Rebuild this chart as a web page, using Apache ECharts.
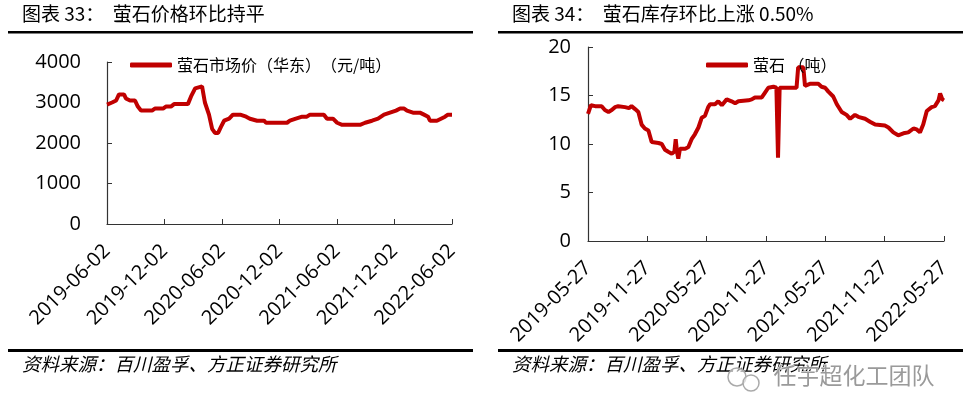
<!DOCTYPE html>
<html>
<head>
<meta charset="utf-8">
<script src="https://cdn.jsdelivr.net/npm/echarts@6/dist/echarts.min.js"></script>
<style>
html,body{margin:0;padding:0;background:#fff;}
#c{width:970px;height:418px;}
</style>
</head>
<body>
<div id="c"></div>
<script>
// ---- Left chart: 萤石市场价(华东) (元/吨)
var priceStart = '2019-06-02', priceEnd = '2022-06-02';
var priceTicks = ['2019-06-02','2019-12-02','2020-06-02','2020-12-02','2021-06-02','2021-12-02','2022-06-02'];
var priceDates = ['2019-06-02','2019-06-18','2019-07-01','2019-07-10','2019-07-26','2019-08-01','2019-08-14','2019-08-30','2019-09-08','2019-09-18',
  '2019-10-23','2019-11-01','2019-11-27','2019-12-06','2019-12-22','2020-01-01','2020-02-14','2020-02-24','2020-03-08','2020-03-30',
  '2020-04-08','2020-04-21','2020-05-01','2020-05-10','2020-05-20','2020-05-29','2020-06-08','2020-06-24','2020-07-06','2020-07-29',
  '2020-08-17','2020-08-29','2020-09-21','2020-10-13','2020-10-19','2020-12-25','2021-01-03','2021-01-22','2021-02-11','2021-02-26',
  '2021-03-08','2021-04-21','2021-05-01','2021-05-20','2021-06-02','2021-06-18','2021-08-14','2021-08-30','2021-09-21','2021-10-10',
  '2021-10-29','2021-11-17','2021-12-06','2021-12-19','2022-01-01','2022-01-10','2022-01-29','2022-02-20','2022-03-05','2022-03-18',
  '2022-03-24','2022-04-15','2022-04-28','2022-05-11','2022-05-20','2022-06-02'];
var priceValues = [2950,3000,3050,3200,3200,3100,3050,3050,2900,2800,
  2800,2850,2850,2900,2900,2960,2960,3150,3350,3400,
  3000,2700,2350,2250,2250,2400,2550,2600,2700,2700,
  2650,2600,2550,2550,2500,2500,2550,2600,2650,2650,
  2700,2700,2600,2600,2500,2450,2450,2500,2550,2600,
  2700,2750,2800,2850,2850,2800,2750,2750,2700,2650,
  2550,2550,2600,2650,2700,2700];
var priceYTicks = [0,1000,2000,3000,4000];

// ---- Right chart: 萤石 (吨)
var stockStart = '2019-05-27', stockEnd = '2022-05-27';
var stockTicks = ['2019-05-27','2019-11-27','2020-05-27','2020-11-27','2021-05-27','2021-11-27','2022-05-27'];
var stockDates = ['2019-05-27','2019-06-05','2019-06-18','2019-07-08','2019-07-18','2019-07-29','2019-08-08','2019-08-18','2019-08-28','2019-09-18',
  '2019-09-30','2019-10-08','2019-10-19','2019-10-29','2019-11-08','2019-11-18','2019-11-29','2019-12-09','2019-12-30','2020-01-09',
  '2020-01-19','2020-01-29','2020-02-09','2020-02-17','2020-02-21','2020-02-25','2020-02-29','2020-03-05','2020-03-21','2020-03-31',
  '2020-04-10','2020-04-20','2020-05-01','2020-05-11','2020-05-21','2020-05-31','2020-06-06','2020-06-21','2020-07-01','2020-07-12',
  '2020-07-27','2020-08-11','2020-08-22','2020-09-01','2020-10-02','2020-10-12','2020-10-22','2020-10-27','2020-11-12','2020-11-22',
  '2020-12-02','2020-12-18','2020-12-27','2021-01-01','2021-01-06','2021-01-22','2021-02-27','2021-03-04','2021-03-20','2021-03-25',
  '2021-04-09','2021-05-05','2021-05-15','2021-05-26','2021-06-05','2021-06-20','2021-07-01','2021-07-16','2021-07-31','2021-08-11',
  '2021-08-26','2021-09-05','2021-09-26','2021-10-11','2021-10-27','2021-11-26','2021-12-07','2021-12-22','2022-01-06','2022-01-22',
  '2022-02-06','2022-02-22','2022-03-04','2022-03-14','2022-03-24','2022-04-04','2022-04-19','2022-04-29','2022-05-10','2022-05-15',
  '2022-05-22','2022-05-27'];
var stockValues = [13.1,14.0,13.9,13.9,13.5,13.3,13.5,13.8,13.9,13.8,
  13.7,13.9,13.6,13.3,12.0,11.6,11.4,10.2,10.1,10.0,
  9.4,9.2,9.0,9.2,10.5,9.2,8.5,9.5,9.5,9.7,
  10.5,11.0,11.7,12.7,12.9,13.8,14.1,14.1,14.4,14.0,
  14.6,14.4,14.2,14.4,14.5,14.6,14.8,14.6,14.8,15.3,
  15.8,15.9,15.8,8.6,15.8,15.8,15.8,17.9,17.9,16.0,
  16.2,16.2,15.9,15.8,15.4,14.9,14.1,13.3,13.0,12.6,
  13.0,12.8,12.6,12.3,12.0,11.9,11.7,11.2,10.9,11.1,
  11.2,11.6,11.5,11.2,12.0,13.4,13.8,13.9,14.5,15.2,
  14.6,14.5];
var stockYTicks = [0,5,10,15,20];

var priceName = '萤石市场价（华东）　（元/吨）';
var stockName = '萤石 （吨）';

function toMonths(d, s, e) {
  var t0 = Date.parse(s), t1 = Date.parse(e);
  return (Date.parse(d) - t0) / (t1 - t0) * 36;
}
function pairs(dates, vals, s, e) {
  return dates.map(function (d, i) { return [toMonths(d, s, e), vals[i]]; });
}

var RED = '#C00000';
var numFont = '"Open Sans", sans-serif';
var cjkFont = '"Noto Sans CJK SC", sans-serif';

function xAxisCfg(gi, ticks) {
  return {
    type: 'value', gridIndex: gi, min: 0, max: 36, interval: 6,
    axisLine: { show: true, lineStyle: { color: '#333', width: 1.2 } },
    axisTick: { show: true, inside: true, length: 5, lineStyle: { color: '#333' } },
    splitLine: { show: false },
    axisLabel: {
      rotate: 45, margin: 24, color: '#000', fontSize: 20, fontFamily: numFont,
      formatter: function (v) { return ticks[Math.round(v / 6)]; }
    }
  };
}
function yAxisCfg(gi, yt, margin) {
  return {
    type: 'value', gridIndex: gi, min: yt[0], max: yt[yt.length - 1], interval: yt[1] - yt[0],
    axisLine: { show: true, lineStyle: { color: '#333', width: 1.2 } },
    axisTick: { show: true, inside: true, length: 5, lineStyle: { color: '#333' } },
    splitLine: { show: false },
    axisLabel: { margin: margin, color: '#000', fontSize: 20, fontFamily: numFont,
      formatter: function (v) { return String(v); } }
  };
}

var chart = echarts.init(document.getElementById('c'));
chart.setOption({
  animation: false,
  backgroundColor: '#fff',
  grid: [
    { left: 107, top: 62, width: 345, height: 162 },
    { left: 588, top: 47, width: 356, height: 194 }
  ],
  xAxis: [xAxisCfg(0, priceTicks), xAxisCfg(1, stockTicks)],
  yAxis: [yAxisCfg(0, priceYTicks, 26), yAxisCfg(1, stockYTicks, 17)],
  legend: [
    {
      data: [priceName], left: 125, top: 52,
      icon: 'roundRect', itemWidth: 42, itemHeight: 5, itemGap: 0,
      textStyle: { fontSize: 16, fontFamily: cjkFont, color: '#000', padding: [0, 0, 0, 0] }
    },
    {
      data: [stockName], left: 701, top: 52,
      icon: 'roundRect', itemWidth: 42, itemHeight: 5, itemGap: 0,
      textStyle: { fontSize: 16, fontFamily: cjkFont, color: '#000', padding: [0, 0, 0, 0] }
    }
  ],
  series: [
    {
      name: priceName, type: 'line', xAxisIndex: 0, yAxisIndex: 0,
      data: pairs(priceDates, priceValues, priceStart, priceEnd),
      showSymbol: false, symbol: 'none', lineStyle: { color: RED, width: 4 }, itemStyle: { color: RED }
    },
    {
      name: stockName, type: 'line', xAxisIndex: 1, yAxisIndex: 1,
      data: pairs(stockDates, stockValues, stockStart, stockEnd),
      showSymbol: false, symbol: 'none', lineStyle: { color: RED, width: 4 }, itemStyle: { color: RED }
    }
  ],
  graphic: [
    { type: 'text', left: 22, top: 4, style: { text: '图表 33：  萤石价格环比持平', fontSize: 19, fontFamily: cjkFont, fill: '#000' } },
    { type: 'text', left: 512, top: 4, style: { text: '图表 34：  萤石库存环比上涨 0.50%', fontSize: 19, fontFamily: cjkFont, fill: '#000' } },
    { type: 'rect', shape: { x: 8, y: 31, width: 465, height: 2.5 }, style: { fill: '#000' } },
    { type: 'rect', shape: { x: 498, y: 31, width: 465, height: 2.5 }, style: { fill: '#000' } },
    { type: 'rect', shape: { x: 8, y: 349, width: 465, height: 3 }, style: { fill: '#000' } },
    { type: 'rect', shape: { x: 498, y: 349, width: 465, height: 3 }, style: { fill: '#000' } },
    { type: 'text', left: 22, top: 355, style: { text: '资料来源：百川盈孚、方正证券研究所', fontSize: 18.5, fontStyle: 'italic', fontFamily: cjkFont, fill: '#000' } },
    { type: 'text', left: 512, top: 355, style: { text: '资料来源：百川盈孚、方正证券研究所', fontSize: 18.5, fontStyle: 'italic', fontFamily: cjkFont, fill: '#000' } },
    { type: 'circle', shape: { cx: 737, cy: 377, r: 9 }, style: { fill: 'rgba(255,255,255,0.6)', stroke: '#aaa', lineWidth: 1.5 } },
    { type: 'circle', shape: { cx: 751, cy: 383, r: 8 }, style: { fill: 'rgba(255,255,255,0.6)', stroke: '#aaa', lineWidth: 1.5 } },
    { type: 'text', left: 773, top: 363, style: { text: '任宇超化工团队', fontSize: 23, fontFamily: cjkFont, fill: '#9a9a9a', stroke: '#fff', lineWidth: 1 } }
  ]
});
</script>
</body>
</html>
